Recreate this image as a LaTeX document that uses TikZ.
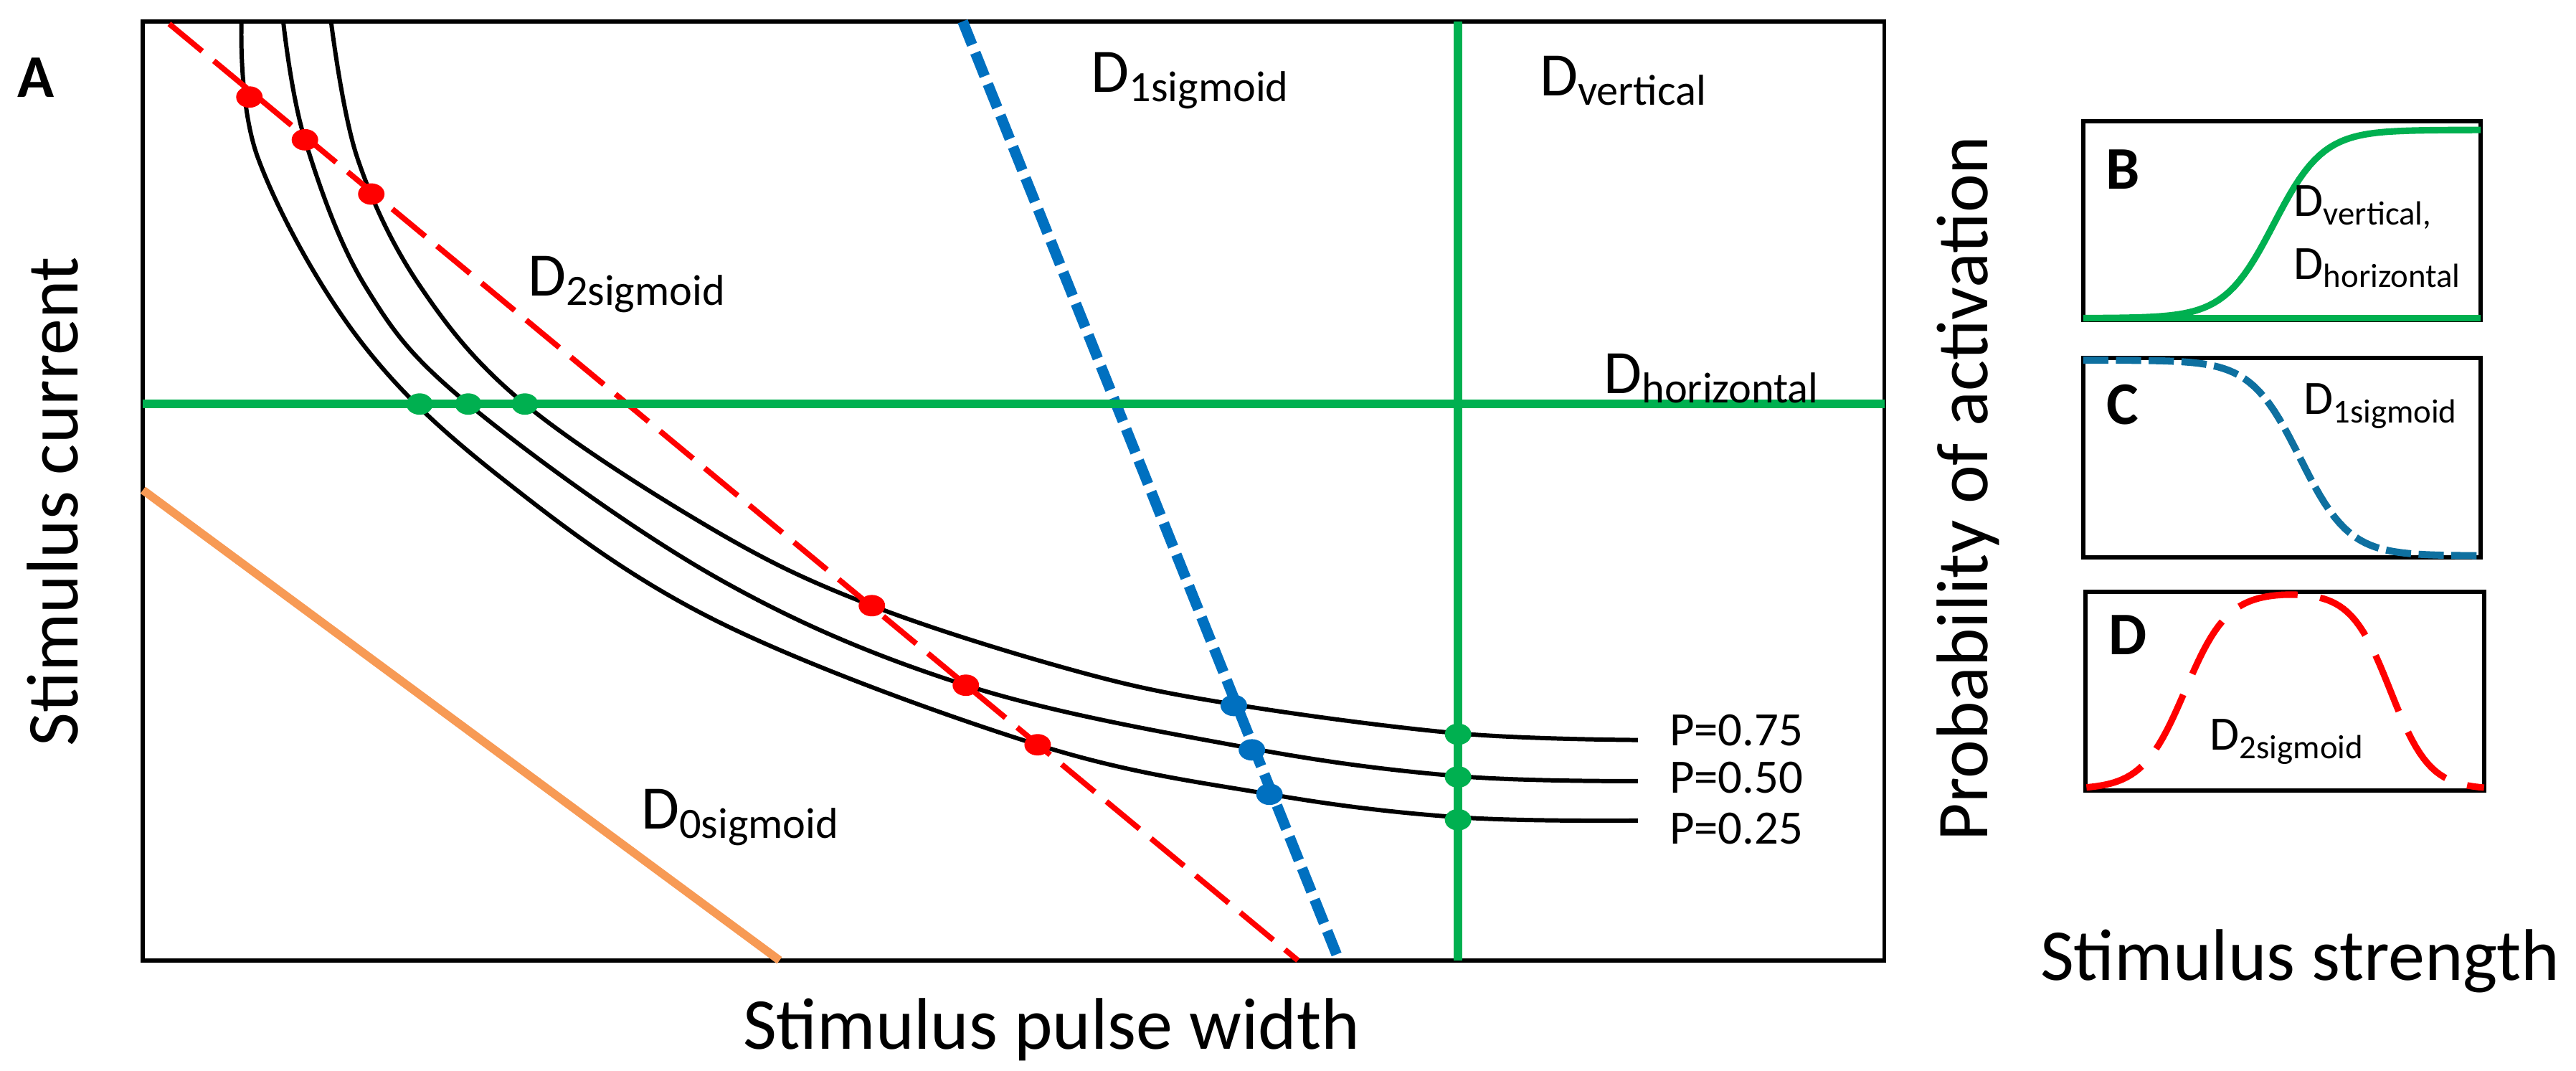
\documentclass[tikz,border=0pt]{standalone}
\usepackage{fontspec}
\setmainfont{Carlito}
\usetikzlibrary{shapes.geometric}
\definecolor{gr}{HTML}{00B050}
\definecolor{bl}{HTML}{0070C0}
\definecolor{bl2}{HTML}{0E70A0}
\definecolor{rd}{HTML}{FF0000}
\definecolor{og}{HTML}{F79A55}
\tikzset{
  frame/.style={line width=1.6pt},
  pcurve/.style={line width=1.7pt},
  grline/.style={gr,line width=3.3pt},
  rdline/.style={rd,line width=2.2pt,dash pattern=on 17pt off 6pt},
  blline/.style={bl,line width=4.2pt,dash pattern=on 10pt off 3.4pt},
  dot/.style={ellipse,minimum width=10.5pt,minimum height=8.5pt,inner sep=0pt,fill=#1},
  lab/.style={font=\fontsize{24.5}{26}\selectfont,anchor=west,inner sep=0pt},
  plab/.style={font=\fontsize{19}{21}\selectfont,anchor=west,inner sep=0pt},
  slab/.style={font=\fontsize{19}{21}\selectfont,anchor=west,inner sep=0pt},
  ax/.style={font=\fontsize{29}{32}\selectfont},
  pan/.style={font=\fontsize{24}{26}\selectfont\bfseries}
}
\begin{document}
\begin{tikzpicture}[x=0.022908cm,y=-0.022919cm]
\useasboundingbox (0,0) rectangle (1568,651);
% main box
\draw[frame] (87,13) rectangle (1147,584);
\node[pan] (A) at (22,47) {A};
% iso-probability curves
\draw[pcurve] plot[smooth,tension=0.6] coordinates {(201.5,13) (217.5,96) (256,174.5) (319.5,245.7) (436.6,323.5) (530.7,368.3) (654.8,408) (749,428) (888,446) (997,450)};
\draw[pcurve] plot[smooth,tension=0.6] coordinates {(172.4,13) (185.6,85) (222.6,174.5) (285,245.7) (436.6,351.5) (587.9,416.7) (761,455) (888,472) (997,475)};
\draw[pcurve] plot[smooth,tension=0.6] coordinates {(147,13) (157,96) (218.3,206) (305.6,291) (436.6,377.8) (631.6,452.9) (773,483) (888,497) (997,499)};
% lines
\coordinate (o1) at (87,298); \coordinate (o2) at (474.5,584);
\draw[og,line width=3.3pt] (o1) -- (o2);
\coordinate (r1) at (103,14.5); \coordinate (r2) at (790,584);
\draw[rdline] (r1) -- (r2);
\coordinate (b1) at (586,13); \coordinate (b2) at (815,584);
\draw[blline] (b1) -- (b2);
\coordinate (h1) at (87,245.7); \coordinate (h2) at (1147,245.7);
\draw[grline] (h1) -- (h2);
\coordinate (v1) at (887.5,13); \coordinate (v2) at (887.5,584);
\draw[grline] (v1) -- (v2);
% dots
\foreach \p/\n in {{(151.8,59)}/r1d,{(185.6,85)}/r2d,{(226,118)}/r3d,{(530.7,368.3)}/r4d,{(587.9,416.7)}/r5d,{(631.6,452.9)}/r6d}
  \node[dot=rd] (\n) at \p {};
\foreach \p/\n in {{(751,429)}/b1d,{(762,456)}/b2d,{(772.7,483)}/b3d}
  \node[dot=bl] (\n) at \p {};
\foreach \p/\n in {{(255.4,245.7)}/g1d,{(285,245.7)}/g2d,{(319.5,245.7)}/g3d,{(887.5,446.5)}/g4d,{(887.5,472.5)}/g5d,{(887.5,498.5)}/g6d}
  \node[dot=gr] (\n) at \p {};
% labels
\node[lab] (l1) at (664,49) {D\textsubscript{1sigmoid}};
\node[lab] (l2) at (321,173) {D\textsubscript{2sigmoid}};
\node[lab] (lv) at (937,49) {D\textsubscript{vertical}};
\node[lab] (lh) at (976,230) {D\textsubscript{horizontal}};
\node[lab] (l0) at (390,497) {D\textsubscript{0sigmoid}};
\node[plab] (p75) at (1016,444) {P=0.75};
\node[plab] (p50) at (1016,473) {P=0.50};
\node[plab] (p25) at (1016,504) {P=0.25};
\node[ax,rotate=90] (yl) at (32,305) {Stimulus current};
\node[ax,anchor=base] (xl) at (640,638) {Stimulus pulse width};
% right panels
\node[ax,rotate=90] (pl) at (1198,297) {Probability of activation};
\node[ax,anchor=base] (sl) at (1400,596) {Stimulus strength};
\draw[frame] (1268,73.7) rectangle (1510,194.6);
\draw[frame] (1268,217.7) rectangle (1510,338.9);
\draw[frame] (1269.3,360) rectangle (1512,480.7);
\node[pan] (B) at (1292,103) {B};
\node[pan] (C) at (1292,246) {C};
\node[pan] (D) at (1295,386) {D};
\draw[gr,line width=2.6pt] (1268,193.5) -- (1510,193.5);
\draw[gr,line width=2.6pt,domain=1268:1510,samples=80] plot (\x,{193.5-114.5/(1+exp(-(\x-1384)/15))});
\draw[bl2,line width=2.8pt,dash pattern=on 10pt off 3pt,domain=1268:1510,samples=80] plot (\x,{219+119/(1+exp(-(\x-1400)/15))});
\draw[rd,line width=2.6pt,dash pattern=on 24pt off 9pt,domain=1270:1512,samples=100] plot (\x,{480-120/(1+exp(-(\x-1330)/13))/(1+exp((\x-1455)/12))});
\node[slab] (bl1) at (1396,126) {D\textsubscript{vertical,}};
\node[slab] (bl2) at (1396,163) {D\textsubscript{horizontal}};
\node[slab] (cl) at (1402,247) {D\textsubscript{1sigmoid}};
\node[slab] (dl) at (1345,451) {D\textsubscript{2sigmoid}};
\end{tikzpicture}
\end{document}
